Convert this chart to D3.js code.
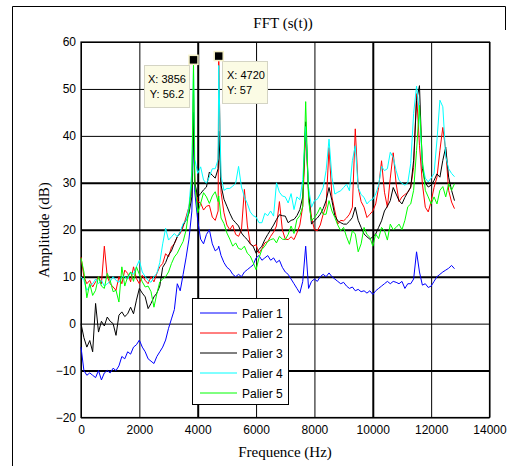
<!DOCTYPE html>
<html><head><meta charset="utf-8">
<script src="https://cdn.jsdelivr.net/npm/d3@7"></script>
<style>
html,body{margin:0;padding:0;background:#fff;}
svg{display:block;}
</style>
</head><body>
<svg id="chart" width="528" height="466"></svg>
<script>
// ---------- DATA ----------
const freqs = [
  0,100,200,300,400,500,600,700,800,900,
  1000,1100,1200,1300,1400,1500,1600,1700,1800,1900,
  2000,2100,2200,2300,2400,2500,2600,2700,2800,2900,
  3000,3100,3200,3300,3400,3500,3600,3700,3800,3856,3900,
  4000,4100,4200,4300,4400,4500,4600,4700,4720,
  4800,4900,
  5000,5100,5200,5300,5400,5500,5600,5700,5800,5900,
  6000,6100,6200,6300,6400,6500,6600,6700,6800,6900,
  7000,7100,7200,7300,7400,7500,7600,7700,7800,7900,
  8000,8100,8200,8300,8400,8500,8600,8700,8800,8900,
  9000,9100,9200,9300,9400,9500,9600,9700,9800,9900,
  10000,10100,10200,10300,10400,10500,10600,10700,10800,10900,
  11000,11100,11200,11300,11400,11500,11600,11700,11800,11900,
  12000,12100,12200,12300,12400,12500,12600,12700,12800
];

const palier1 = [
  -5,-10,-11,-10.5,-11,-11.5,-10,-12,-10.5,-10,
  -10.5,-9.5,-10,-9,-7,-7.5,-6,-6.5,-5,-4.5,
  -3.5,-5,-6,-7.5,-8,-8.5,-7,-6,-5,-3.5,
  -1,1,3,8.5,7,10.5,14,18,24,42,28,
  22,18,17,19,20,17,15.5,16,16.5,
  14.5,13,
  12,11.5,10.5,10,10.5,10,11,11.5,12,12.5,
  14,14.5,13.5,14,14.5,13.5,14,13,13.5,12,
  11,10.5,9.5,8.5,7.5,6.5,9,16.5,7.5,9,
  9.5,9,10,10.5,10,10.8,10,9.5,9,8.5,
  8.8,8,7.5,7.8,7,7.3,6.8,7,6.5,7,
  6.2,7,7.5,8,8.5,9,8.5,9,8.8,8.5,
  9,7.5,8.5,8.5,9.5,15.3,11,8.2,8.5,7.7,
  8,9,10,10.5,11,11.4,11.8,12.4,11.7
];

const palier2 = [
  14.2,10,8.5,9.2,7.8,8.9,10,8.5,16.5,10,
  8.5,7.8,7.1,10,8.5,11.4,10.7,8.9,12.1,9.6,
  8.5,10.3,9.2,8.5,10,8.9,10.7,12.1,12.8,14.9,
  14.2,16.3,17,18.5,19.2,20.6,22.7,24.9,29,50,30,
  26,25.7,24.2,25,25.2,22.7,22,24,57,
  28,23.6,
  21,20,21,19,18.6,20,28.6,21,17,16.5,
  16.8,15,16,17.2,17.5,18.6,19.5,20.8,26,20,
  18,17.9,18.5,17.9,19.3,21,25,41,28,22.6,
  20,19.8,21,23.3,25,37.5,27,24,21.2,22,
  21.9,22.5,23.3,24.8,41.5,29,26,24.8,22.6,23.3,
  24,25.5,29,34.7,28,24.8,31,36.4,29.8,26,
  27,27.5,28,29,33.3,49,38,29.8,24.8,23.8,
  26,29,31.2,36.9,41.8,36.9,28.4,25.9,24.5
];

const palier3 = [
  0,-3,-5,-3.6,-6,4.3,-1.8,0.5,-0.5,1.4,
  0.5,0,-2.5,1.8,2.5,1.5,2.1,3.5,2.1,5,
  7.5,6.5,5.7,3.2,4.3,5.7,6.5,8,12,13,
  14.6,15.5,17.1,18.5,19.5,21,22,23.5,27,45,30,
  27,27.7,28.5,29.1,32.3,31.6,31,33,41,
  29.5,26.5,
  25,23.5,22.2,21.5,20.8,19.3,18.5,17.9,17,16.5,
  15,15.8,16.5,17.9,19,20,21,22.2,23.2,23,
  22.9,21.5,22,22.2,23,24.3,27,43,27.6,21.2,
  21.9,22.5,23.3,24.5,26.2,29,26.2,23,21.9,21.5,
  21.2,21.2,21.8,22.6,24.8,22,20.5,19.1,18.5,18,
  18.5,19.1,20.5,21.9,24,25,26.2,29,27.6,26.2,
  25.5,26.9,28,29.1,34.8,47.5,50.7,33,30,29.1,
  29.5,30.5,31.9,31.2,34.8,37.6,31.2,28.4,26.2
];

const palier4 = [
  10,9.2,7.1,8,8.5,9.5,8.5,9.2,8,8.5,
  9,10,9.2,8.8,10,10,9.5,11,10.5,12.1,
  13.5,11,10,9.2,8.8,10,10.7,13,17,20.3,
  17.8,18.5,19.2,18.5,19.5,21.3,22,24.9,32.7,55,35,
  32,33.4,30.6,29.9,31.3,33,33,35,55,
  31.3,28.4,
  28.8,28.8,29.3,29.9,33.5,29.1,27,25.6,23.8,23,
  22.7,21.5,21.5,23.5,23,24,22.9,30,28,27.2,
  27,25.7,27.7,24.3,27,26.4,30.7,42,29,24.8,
  26.2,26.5,27.6,29,32.6,39.3,31.2,27.6,28,28.3,
  29,29.7,28.3,34.7,37.9,29,27.5,26.9,25.5,26.2,
  26.5,27.6,29.5,33.5,32.6,33,36.5,35.4,32.6,30.5,
  29.9,29.5,30,34.1,44.8,50.6,44.8,34.1,31,30.2,
  31,32,39.1,47.6,46.2,35.6,33,32,31.3
];

const palier5 = [
  14,11,5.5,8.5,6,7.1,10,8,7.5,10.7,
  9.2,6.8,7.1,4.6,12.1,8,10,11,9,12.1,
  10.5,8.9,7.8,8,6.8,3.5,6.4,8.9,9.5,10,
  11,12.8,14.2,15,16.3,17.5,19.9,24.2,30,55.5,30,
  23.6,25.6,27.9,27,25.6,27.2,28.1,26,27.2,
  22.5,21.3,
  19.3,18,16.5,17.2,16,15.8,16.5,15,14.4,13,
  11.5,14,15.8,16.5,17.5,17.9,18.1,17.2,18.6,18,
  17.9,19,20.8,19.2,22.2,23,25,47.3,26.2,21.9,
  22.6,23.5,24.8,23.3,23.3,26.2,24,22.6,21,19.8,
  20.5,18.5,16.9,19.8,19.1,15.3,17,20.5,19,18.4,
  16.5,19.1,18.1,20.5,19.8,17.8,21.2,20,20.5,21.2,
  20,22,24.9,25.5,28.4,36.9,46.5,34.8,28.4,27,
  25.5,27,25.5,28.4,29.2,27,29.8,28.4,29.8
];

const seriesNames = ["Palier 1","Palier 2","Palier 3","Palier 4","Palier 5"];
const seriesValues = [palier1, palier2, palier3, palier4, palier5];
const xTicks = [0,2000,4000,6000,8000,10000,12000,14000];
const yTicks = [-20,-10,0,10,20,30,40,50,60];
const dataTips = [{x:3856, y:56.2}, {x:4720, y:57}];

// ---------- STYLE ----------
const colors = ["#0000ff","#ff0000","#000000","#00ffff","#00ff00"];
const thickX = [4000,10000];
const thickY = [30,20,10,-10];

const svg = d3.select("#chart");
const W = 528, H = 466;
const m = {left:81, top:42, right:489.5, bottom:417.5};

svg.append("rect").attr("x",0).attr("y",0).attr("width",W).attr("height",H).attr("fill","#fff");
// outer figure frame (left + top edges)
svg.append("path").attr("d","M12.5,470 V6.5 H505.5 V30")
  .attr("fill","none").attr("stroke","#000").attr("stroke-width",1);

const x = d3.scaleLinear().domain([0,14000]).range([m.left, m.right]);
const y = d3.scaleLinear().domain([-20,60]).range([m.bottom, m.top]);

// grid
const gx = svg.append("g").attr("transform",`translate(0,${m.bottom})`)
  .call(d3.axisBottom(x).tickValues(xTicks).tickSize(-(m.bottom-m.top)).tickFormat(""));
gx.select(".domain").remove();
gx.selectAll(".tick line").attr("stroke","#000")
  .attr("stroke-width", d => thickX.includes(d) ? 2 : 1);
const gy = svg.append("g").attr("transform",`translate(${m.left},0)`)
  .call(d3.axisLeft(y).tickValues(yTicks).tickSize(-(m.right-m.left)).tickFormat(""));
gy.select(".domain").remove();
gy.selectAll(".tick line").attr("stroke","#000")
  .attr("stroke-width", d => thickY.includes(d) ? 2 : 1);

// axes box
svg.append("rect").attr("x",m.left).attr("y",m.top)
  .attr("width",m.right-m.left).attr("height",m.bottom-m.top)
  .attr("fill","none").attr("stroke","#000").attr("stroke-width",1.2);

// tick labels
const ax = svg.append("g").attr("transform",`translate(0,${m.bottom})`)
  .call(d3.axisBottom(x).tickValues(xTicks).tickSize(0).tickPadding(8).tickFormat(d3.format("d")));
ax.select(".domain").remove();
ax.selectAll("text").attr("font-family","Liberation Sans, Arial, sans-serif").attr("font-size",12).attr("fill","#000");
const ay = svg.append("g").attr("transform",`translate(${m.left},0)`)
  .call(d3.axisLeft(y).tickValues(yTicks).tickSize(0).tickPadding(5).tickFormat(d3.format("d")));
ay.select(".domain").remove();
ay.selectAll("text").attr("font-family","Liberation Sans, Arial, sans-serif").attr("font-size",12).attr("fill","#000");

// lines
const line = d3.line().x((d,i)=>x(freqs[i])).y(d=>y(d));
seriesValues.forEach((vals,k)=>{
  svg.append("path").datum(vals).attr("d",line)
    .attr("fill","none").attr("stroke",colors[k]).attr("stroke-width",1)
    .attr("stroke-linejoin","round");
});

// titles
svg.append("text").attr("x",283).attr("y",28).attr("text-anchor","middle")
  .attr("font-family","Liberation Serif, Times New Roman, serif").attr("font-size",15)
  .text("FFT (s(t))");
svg.append("text").attr("x",285).attr("y",457).attr("text-anchor","middle")
  .attr("font-family","Liberation Serif, Times New Roman, serif").attr("font-size",15)
  .text("Frequence (Hz)");
svg.append("text").attr("transform","translate(49,230) rotate(-90)").attr("text-anchor","middle")
  .attr("font-family","Liberation Serif, Times New Roman, serif").attr("font-size",15)
  .text("Amplitude (dB)");

// data tips
const tipBoxes = [
  {bx:144, by:65, bw:45, bh:42, anchor:"middle", tx:167},
  {bx:222, by:61, bw:45, bh:42, anchor:"start", tx:227}
];
dataTips.forEach((d,i)=>{
  const b = tipBoxes[i];
  svg.append("rect").attr("x",b.bx+0.5).attr("y",b.by+0.5).attr("width",b.bw).attr("height",b.bh)
    .attr("fill","#fbfbe4").attr("stroke","#d4d4c4").attr("stroke-width",1);
  svg.append("text").attr("x",b.tx).attr("y",b.by+18).attr("text-anchor",b.anchor)
    .attr("font-family","Liberation Sans, Arial, sans-serif").attr("font-size",11)
    .text("X: " + d.x);
  svg.append("text").attr("x",b.tx).attr("y",b.by+33).attr("text-anchor",b.anchor)
    .attr("font-family","Liberation Sans, Arial, sans-serif").attr("font-size",11)
    .text("Y: " + d.y);
  svg.append("rect").attr("x",x(d.x)-4.5).attr("y",y(d.y)-4.5).attr("width",9).attr("height",9)
    .attr("fill","#000").attr("stroke","#f4f0c8").attr("stroke-width",1.5);
});

// legend
const lg = svg.append("g");
lg.append("rect").attr("x",192.5).attr("y",298.5).attr("width",96).attr("height",106)
  .attr("fill","#fff").attr("stroke","#000").attr("stroke-width",1);
seriesNames.forEach((n,i)=>{
  const yy = 313 + i*20;
  lg.append("line").attr("x1",200).attr("x2",237).attr("y1",yy).attr("y2",yy)
    .attr("stroke",colors[i]).attr("stroke-width",1);
  lg.append("text").attr("x",242).attr("y",yy+4.5)
    .attr("font-family","Liberation Sans, Arial, sans-serif").attr("font-size",12)
    .text(n);
});
</script>
</body></html>
